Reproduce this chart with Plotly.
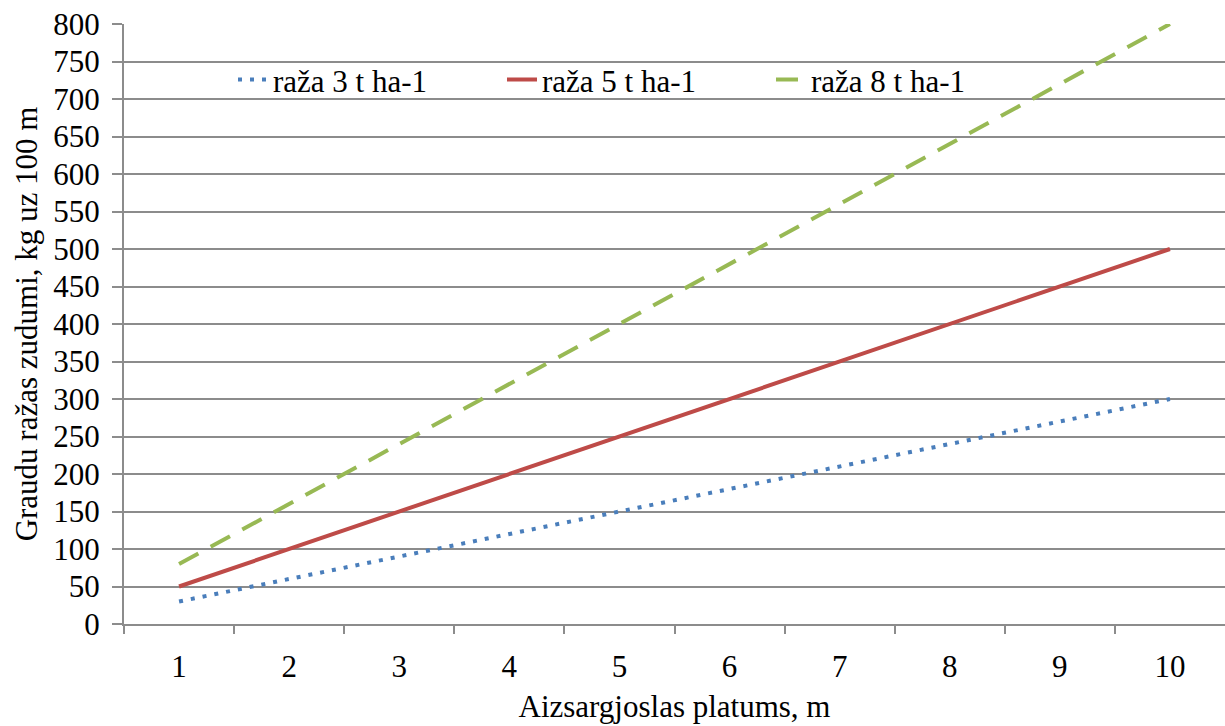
import plotly.graph_objects as go

x_vals = [1, 2, 3, 4, 5, 6, 7, 8, 9, 10]
raza3 = [30, 60, 90, 120, 150, 180, 210, 240, 270, 300]
raza5 = [50, 100, 150, 200, 250, 300, 350, 400, 450, 500]
raza8 = [80, 160, 240, 320, 400, 480, 560, 640, 720, 800]
names = ["raža 3 t ha-1", "raža 5 t ha-1", "raža 8 t ha-1"]

FONT = "Liberation Serif"
GRID = "#8c8c8c"
FS = 31

fig = go.Figure()
fig.add_trace(go.Scatter(x=x_vals, y=raza3, mode="lines", name=names[0],
                         line=dict(color="#4A7EBB", width=4, dash="4px,8px")))
fig.add_trace(go.Scatter(x=x_vals, y=raza5, mode="lines", name=names[1],
                         line=dict(color="#BE4B48", width=4)))
fig.add_trace(go.Scatter(x=x_vals, y=raza8, mode="lines", name=names[2],
                         line=dict(color="#98B954", width=4, dash="22px,14px")))

fig.update_layout(
    width=1225, height=726,
    margin=dict(l=124, r=0, t=24, b=102),
    paper_bgcolor="white", plot_bgcolor="white",
    font=dict(family=FONT, size=FS, color="black"),
    showlegend=True,
    legend=dict(orientation="h", x=0.099, xanchor="left", y=0.907, yanchor="middle",
                bgcolor="rgba(0,0,0,0)", entrywidth=224, entrywidthmode="pixels",
                font=dict(family=FONT, size=FS, color="black")),
    xaxis=dict(
        range=[0.5, 10.5], tickmode="array", tickvals=x_vals,
        ticktext=[str(v) for v in x_vals],
        showgrid=False, zeroline=False, showline=True, linecolor=GRID, linewidth=2,
        ticks="", ticklabelstandoff=14,
        title=dict(text="Aizsargjoslas platums, m", font=dict(family=FONT, size=FS, color="black"), standoff=12),
        tickfont=dict(family=FONT, size=FS, color="black"),
        minor=dict(tickmode="array", tickvals=[1.5 + i for i in range(9)] + [0.5],
                   ticks="outside", ticklen=8, tickcolor=GRID, tickwidth=2),
    ),
    yaxis=dict(
        range=[0, 800], tickmode="linear", tick0=0, dtick=50,
        showgrid=True, gridcolor=GRID, gridwidth=2,
        zeroline=False, showline=True, linecolor=GRID, linewidth=2,
        ticks="outside", ticklen=10, tickcolor=GRID, tickwidth=2,
        ticklabelstandoff=6,
        title=dict(text="Graudu ražas zudumi, kg uz 100 m", font=dict(family=FONT, size=FS, color="black"), standoff=6),
        tickfont=dict(family=FONT, size=FS, color="black"),
    ),
)

fig.write_html("out.html")
